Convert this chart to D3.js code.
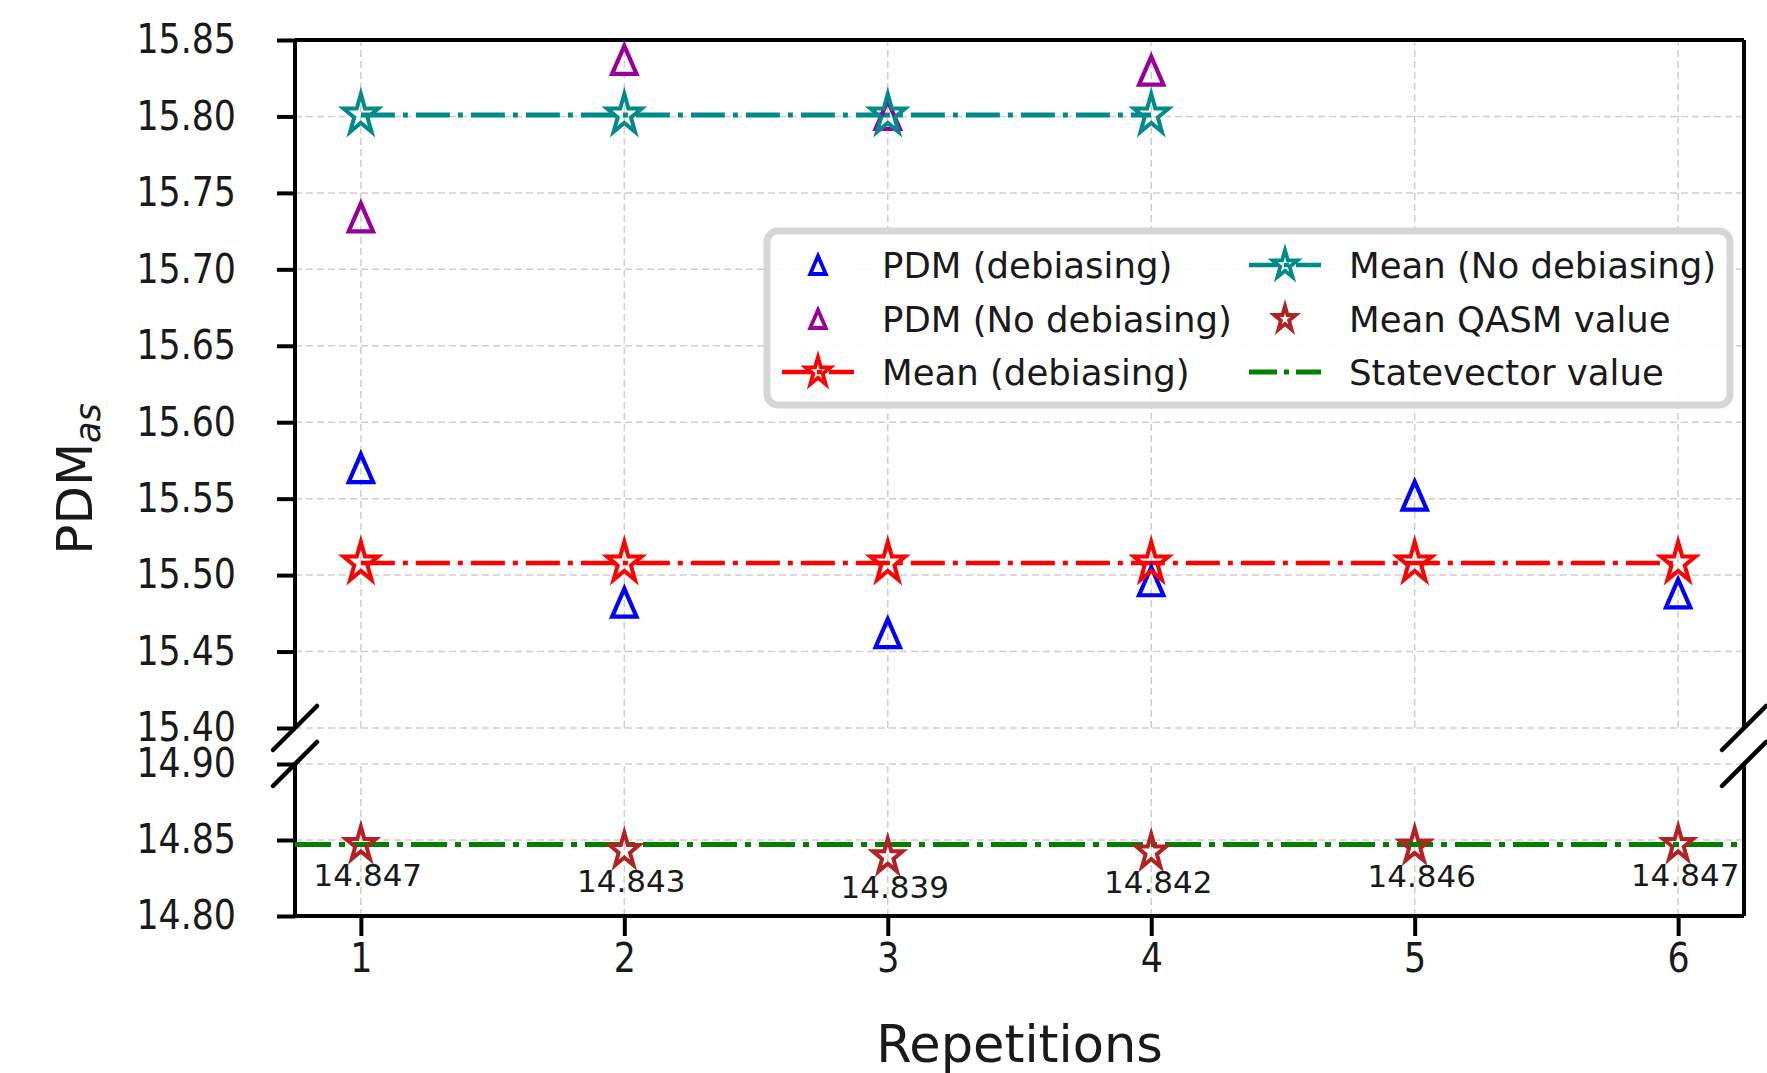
<!DOCTYPE html>
<html>
<head>
<meta charset="utf-8">
<script src="https://cdn.jsdelivr.net/npm/d3@7"></script>
<style>
  body { margin: 0; background: #fff; }
  text { font-family: "DejaVu Sans", sans-serif; fill: #1a1a1a; }
</style>
</head>
<body>
<svg id="chart"></svg>
<script>
const width = 1767;
const height = 1073;

// data
const reps = [1, 2, 3, 4, 5, 6];
const pdmDebiasing = [15.570, 15.482, 15.462, 15.496, 15.552, 15.488];
const pdmNoDebReps = [1, 2, 3, 4];
const pdmNoDebiasing = [15.734, 15.837, 15.801, 15.830];
const meanDebiasing = [15.508, 15.508, 15.508, 15.508, 15.508, 15.508];
const meanNoDebiasing = [15.801, 15.801, 15.801, 15.801];
const qasmMeans = [14.847, 14.843, 14.839, 14.842, 14.846, 14.847];
const qasmLabels = ["14.847", "14.843", "14.839", "14.842", "14.846", "14.847"];
const statevectorValue = 14.847;
const topTicks = [15.40, 15.45, 15.50, 15.55, 15.60, 15.65, 15.70, 15.75, 15.80, 15.85];
const bottomTicks = [14.80, 14.85, 14.90];
const legendLabels = ["PDM (debiasing)", "PDM (No debiasing)", "Mean (debiasing)",
                      "Mean (No debiasing)", "Mean QASM value", "Statevector value"];

const svg = d3.select('#chart')
  .attr('width', width)
  .attr('height', height);

// plot box
const left = 295, right = 1744;
const x = d3.scaleLinear().domain([0.75, 6.25]).range([left, right]);
const yTop = d3.scaleLinear().domain([15.40, 15.85]).range([728, 40]);
const yBot = d3.scaleLinear().domain([14.80, 14.90]).range([916, 764]);

const squash = 0.87;   // markers look a bit narrow in the picture
const tickSquash = 0.87; // tick labels too

// matplotlib-like star and triangle markers
const starType = {
  draw(ctx, size) {
    const R = Math.sqrt(size), r = R * 0.381966;
    for (let k = 0; k < 10; k++) {
      const a = -Math.PI / 2 + k * Math.PI / 5;
      const rr = k % 2 ? r : R;
      const px = Math.cos(a) * rr * squash, py = Math.sin(a) * rr;
      if (k == 0) ctx.moveTo(px, py); else ctx.lineTo(px, py);
    }
    ctx.closePath();
  }
};
const triType = {
  draw(ctx, size) {
    const h = Math.sqrt(size);
    ctx.moveTo(0, -h);
    ctx.lineTo(-h * squash, h);
    ctx.lineTo(h * squash, h);
    ctx.closePath();
  }
};
const star = s => d3.symbol().type(starType).size(s * s)();
const tri = s => d3.symbol().type(triType).size(s * s)();

// grid
const grid = svg.append('g');
function drawGrid(y, ticks) {
  grid.selectAll(null).data(ticks).enter().append('line')
    .attr('x1', left).attr('x2', right)
    .attr('y1', d => y(d)).attr('y2', d => y(d))
    .attr('stroke', '#cfcfcf').attr('stroke-width', 1.5).attr('stroke-dasharray', '7,4');
  grid.selectAll(null).data(reps).enter().append('line')
    .attr('x1', d => x(d)).attr('x2', d => x(d))
    .attr('y1', y.range()[0]).attr('y2', y.range()[1])
    .attr('stroke', '#cfcfcf').attr('stroke-width', 1.5).attr('stroke-dasharray', '7,4');
}
drawGrid(yTop, topTicks);
drawGrid(yBot, bottomTicks);

// squeeze tick text horizontally, keeping its anchor point
function squeezeText(sel) {
  sel.each(function () {
    const t = d3.select(this);
    t.attr('x', (+t.attr('x') || 0) / tickSquash)
      .attr('transform', `scale(${tickSquash},1)`);
  });
}

// y axes
function yAxis(y, ticks) {
  const g = svg.append('g')
    .attr('transform', `translate(${left},0)`)
    .call(d3.axisLeft(y).tickValues(ticks).tickFormat(d3.format('.2f')).tickSize(18).tickPadding(41));
  g.select('.domain').remove();
  g.selectAll('.tick line').attr('stroke', '#000').attr('stroke-width', 4);
  g.selectAll('.tick text').attr('font-size', 40).attr('font-family', 'DejaVu Sans').attr('fill', '#1a1a1a')
    .call(squeezeText);
}
yAxis(yTop, topTicks);
yAxis(yBot, bottomTicks);

// x axis on the lower panel
const xg = svg.append('g')
  .attr('transform', 'translate(0,916)')
  .call(d3.axisBottom(x).tickValues(reps).tickFormat(d3.format('d')).tickSize(20).tickPadding(8));
xg.select('.domain').remove();
xg.selectAll('.tick line').attr('stroke', '#000').attr('stroke-width', 4);
xg.selectAll('.tick text').attr('font-size', 40).attr('font-family', 'DejaVu Sans').attr('fill', '#1a1a1a')
  .call(squeezeText);

// spines
const spines = svg.append('g').attr('stroke', '#000').attr('stroke-width', 4);
spines.append('line').attr('x1', left).attr('x2', right).attr('y1', yTop(15.85)).attr('y2', yTop(15.85));
spines.append('line').attr('x1', left).attr('x2', right).attr('y1', yBot(14.80)).attr('y2', yBot(14.80));
[left, right].forEach(sx => {
  spines.append('line').attr('x1', sx).attr('x2', sx).attr('y1', yTop(15.85)).attr('y2', yTop(15.40));
  spines.append('line').attr('x1', sx).attr('x2', sx).attr('y1', yBot(14.90)).attr('y2', yBot(14.80));
  // break marks
  [yTop(15.40), yBot(14.90)].forEach(by => {
    spines.append('line')
      .attr('x1', sx - 22).attr('y1', by + 22)
      .attr('x2', sx + 22).attr('y2', by - 22)
      .attr('stroke-width', 4.5).attr('stroke-linecap', 'round');
  });
});

const marks = svg.append('g');
const dashDot = '34,8,5,8';

// mean lines
const lineTop = d3.line().x(d => x(d[0])).y(d => yTop(d[1]));
marks.append('path')
  .attr('d', lineTop(reps.map((r, i) => [r, meanDebiasing[i]])))
  .attr('fill', 'none').attr('stroke', '#ff0000').attr('stroke-width', 4.5).attr('stroke-dasharray', dashDot);
marks.append('path')
  .attr('d', lineTop(pdmNoDebReps.map((r, i) => [r, meanNoDebiasing[i]])))
  .attr('fill', 'none').attr('stroke', '#008b8b').attr('stroke-width', 5).attr('stroke-dasharray', dashDot);

// statevector line across lower panel
marks.append('line')
  .attr('x1', left).attr('x2', right)
  .attr('y1', yBot(statevectorValue)).attr('y2', yBot(statevectorValue))
  .attr('stroke', '#008000').attr('stroke-width', 5).attr('stroke-dasharray', '36,8,6,8');

function markers(data, xs, y, path, color, sw) {
  marks.selectAll(null).data(data).enter().append('path')
    .attr('d', path)
    .attr('transform', (d, i) => `translate(${x(xs[i])},${y(d)})`)
    .attr('fill', 'none').attr('stroke', color).attr('stroke-width', sw)
    .attr('stroke-linejoin', 'miter');
}
markers(pdmDebiasing, reps, yTop, tri(14), '#0000ff', 4.2);
markers(pdmNoDebiasing, pdmNoDebReps, yTop, tri(14), '#990099', 4.2);
markers(meanDebiasing, reps, yTop, star(21), '#ff0000', 4);
markers(meanNoDebiasing, pdmNoDebReps, yTop, star(21), '#008b8b', 4);
markers(qasmMeans, reps, yBot, star(18), '#b22222', 4);

// value labels below the QASM stars
marks.selectAll(null).data(qasmMeans).enter().append('text')
  .attr('x', (d, i) => x(reps[i]) + 7)
  .attr('y', d => yBot(d) + 30)
  .attr('text-anchor', 'middle')
  .attr('dominant-baseline', 'central')
  .attr('font-size', 31)
  .text((d, i) => qasmLabels[i]);

// legend
const lg = svg.append('g');
lg.append('rect')
  .attr('x', 767).attr('y', 231).attr('width', 963).attr('height', 174)
  .attr('rx', 11).attr('fill', '#fff').attr('fill-opacity', 0.92)
  .attr('stroke', '#d6d6d6').attr('stroke-width', 7);
const legendCols = [818, 1285];
const legendRows = [265, 319, 372];
const legendStyle = [
  { color: '#0000ff', marker: tri(9), line: false },
  { color: '#990099', marker: tri(9), line: false },
  { color: '#ff0000', marker: star(15), line: true },
  { color: '#008b8b', marker: star(15), line: true },
  { color: '#b22222', marker: star(13), line: false },
  { color: '#008000', marker: null, line: true }
];
legendLabels.forEach((label, i) => {
  const cx = legendCols[Math.floor(i / 3)], cy = legendRows[i % 3];
  const st = legendStyle[i];
  if (st.line) {
    lg.append('line')
      .attr('x1', cx - 36).attr('x2', cx + 36).attr('y1', cy).attr('y2', cy)
      .attr('stroke', st.color).attr('stroke-width', st.marker ? 4.5 : 5)
      .attr('stroke-dasharray', '28,7,5,7');
  }
  if (st.marker) {
    lg.append('path').attr('d', st.marker)
      .attr('transform', `translate(${cx},${cy})`)
      .attr('fill', 'none').attr('stroke', st.color).attr('stroke-width', 3.8);
  }
  lg.append('text')
    .attr('x', cx + 64).attr('y', cy)
    .attr('dominant-baseline', 'central')
    .attr('font-size', 35.5)
    .text(label);
});

// axis titles
svg.append('text')
  .attr('x', (left + right) / 2).attr('y', 1062)
  .attr('text-anchor', 'middle')
  .attr('font-size', 51)
  .text('Repetitions');

const yl = svg.append('text')
  .attr('transform', 'translate(92,479) rotate(-90)')
  .attr('text-anchor', 'middle')
  .attr('font-size', 50);
yl.append('tspan').text('PDM');
yl.append('tspan').attr('font-style', 'italic').attr('font-size', 35).attr('dy', 8).text('as');
</script>
</body>
</html>
